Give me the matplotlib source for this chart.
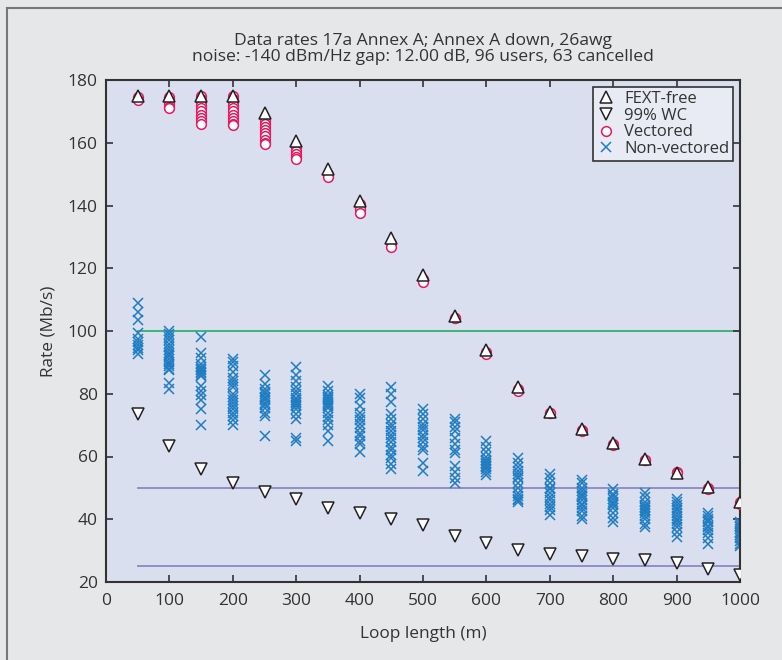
import numpy as np
import matplotlib
matplotlib.use("Agg")
import matplotlib.pyplot as plt
from matplotlib.lines import Line2D

plt.rcParams['font.family'] = ['Open Sans', 'DejaVu Sans']

# loop lengths (m)
loop_m = [50, 100, 150, 200, 250, 300, 350, 400, 450, 500,
          550, 600, 650, 700, 750, 800, 850, 900, 950, 1000]

fext_free = [175, 175, 175, 175, 169.5, 160.5, 151.5, 141.5, 129.5, 118,
             104.8, 93.8, 82.3, 74.3, 68.8, 64.3, 59.2, 54.8, 50.4, 45.6]

wc99 = [73.5, 63.3, 56, 51.5, 48.7, 46.4, 43.6, 42, 40, 38.2,
        34.6, 32.4, 30.2, 28.9, 28.3, 27.3, 27, 26, 24.1, 22.3]

vectored = [
    [174.5, 173.5],
    [174.5, 173.5, 172.5, 171.5, 171],
    [175, 174, 173, 172, 171, 170, 169, 168, 167, 166],
    [175, 174, 173, 172, 171, 170, 169, 168, 167, 166, 165.5],
    [167, 166, 165, 164, 163, 162, 161, 160, 159.5],
    [158.5, 157.5, 156.5, 155.5, 154.8],
    [150, 149],
    [140.5, 139, 137.5],
    [128, 126.8],
    [116.5, 115.6],
    [104.3, 104],
    [93.3, 92.8],
    [81.5, 81],
    [74, 73.8],
    [68.5, 68.2],
    [64, 63.7],
    [59, 58.8],
    [55, 54.6],
    [50, 49.8],
    [45.5, 45],
]

non_vectored = [
    [108.8, 106.2, 103.5, 99.5, 97.5, 96.5, 95.5, 94.5, 93.8, 92.8],
    [100, 99, 98, 97, 96, 95, 94, 93, 92.5, 92, 91, 90, 89.5, 89, 88, 87.5, 83.5, 81.5],
    [98, 93, 91.5, 89.5, 88.5, 88, 87.5, 87, 86.5, 86, 85.5, 82.5, 81, 79.5, 78, 75, 70],
    [91, 90, 89, 87, 85, 84, 83, 82, 80, 79, 78, 77, 76, 75, 74, 73, 71.5, 70],
    [86, 83, 81.5, 80.5, 80, 79, 78.5, 78, 77, 76.5, 75.5, 74, 73, 66.5],
    [88.5, 86, 84, 82, 81, 80, 78.5, 78, 77.5, 77, 76.5, 76, 75, 73.5, 72, 66, 65],
    [82.5, 81, 79.5, 79, 78.5, 78, 77.5, 77, 76.5, 76, 75.5, 74, 72.5, 71.5, 70, 68, 65],
    [80, 78.5, 76, 74, 72.5, 71.5, 70.5, 69, 67.5, 66.5, 65, 64, 61.5],
    [82, 80, 77.5, 73.5, 72, 70.5, 69.5, 68, 67, 66, 64.5, 63, 62, 60.5, 59.5, 57.5, 56],
    [75, 73.5, 72, 70.5, 69.5, 68.5, 67, 66, 64.5, 63, 62, 58, 55.5],
    [72, 71, 69.5, 68, 66, 64, 62, 61, 57, 55, 53, 51.5],
    [65, 63, 61.5, 60, 59, 58.5, 58, 57.5, 57, 56.5, 56, 55, 54],
    [59.5, 58, 56.5, 55.5, 54.5, 53.5, 53, 51.5, 50, 48.5, 47.5, 46.5, 46, 45.5],
    [54.5, 53, 51.5, 50, 49.5, 48.5, 47, 46, 45, 44, 43, 41.5],
    [52.5, 51.5, 50, 49, 48, 47.5, 47, 46, 45, 44.5, 43.5, 42.5, 41, 40],
    [49.5, 48, 47.5, 46.5, 45.5, 45, 44.5, 43.5, 42, 40.5, 39],
    [48.5, 47, 45.5, 44.5, 44, 43.5, 43, 42.5, 42, 41, 40, 38.5, 37.5],
    [46.5, 45.5, 44.5, 43.5, 43, 42, 41, 40, 39.5, 38.5, 37.5, 36, 34.5],
    [42, 41, 40, 39.5, 39, 38, 37.5, 36.5, 35.5, 34, 32],
    [39, 38.5, 38, 37.5, 37, 36, 35.5, 35, 34, 33, 32, 31.5],
]

# reference rate lines (Mb/s)
ref_rates = [100, 50, 25]
ref_colors = ['#3db37a', '#8f8fc6', '#8f8fc6']

title_lines = ["Data rates 17a Annex A; Annex A down, 26awg",
               "noise: -140 dBm/Hz gap: 12.00 dB, 96 users, 63 cancelled"]

fig = plt.figure(figsize=(7.82, 6.6), dpi=100, facecolor='#e6e7e9')
ax = fig.add_axes([106 / 782, 1 - 582 / 660, 634 / 782, 502 / 660])
ax.set_facecolor('#d9dfee')

# frame round the figure (left and top edges only show)
fig.add_artist(Line2D([7 / 782, 7 / 782], [0, 1 - 8 / 660], transform=fig.transFigure,
                      color='#777777', lw=1.5))
fig.add_artist(Line2D([7 / 782, 1.0], [1 - 8 / 660, 1 - 8 / 660], transform=fig.transFigure,
                      color='#777777', lw=1.5))

for r, c in zip(ref_rates, ref_colors):
    ax.plot([loop_m[0], loop_m[-1]], [r, r], color=c, lw=1.4, zorder=1)

nx = [x for x, vals in zip(loop_m, non_vectored) for v in vals]
ny = [v for vals in non_vectored for v in vals]
ax.plot(nx, ny, 'x', color='#1f7dc4', ms=7, mew=1.1, zorder=2, label='Non-vectored')

vx = [x for x, vals in zip(loop_m, vectored) for v in vals]
vy = [v for vals in vectored for v in vals]
ax.plot(vx, vy, 'o', mfc='white', mec='#e8185f', ms=7, mew=1.1, zorder=3, label='Vectored')

ax.plot(loop_m, fext_free, '^', mfc='white', mec='#222222', ms=9, mew=1.1, zorder=4,
        label='FEXT-free')
ax.plot(loop_m, wc99, 'v', mfc='white', mec='#222222', ms=9, mew=1.1, zorder=4,
        label='99% WC')

ax.set_xlim(0, 1000)
ax.set_ylim(20, 180)
ax.set_xticks(np.arange(0, 1001, 100))
ax.set_yticks(np.arange(20, 181, 20))
ax.tick_params(direction='in', top=True, right=True, length=5, width=1.2,
               labelsize=12.5, labelcolor='#333333', colors='#333333', pad=6)
ax.tick_params(axis='x', pad=8)
for s in ax.spines.values():
    s.set_linewidth(1.5)
    s.set_color('#333333')

ax.set_xlabel('Loop length (m)', fontsize=12.4, color='#333333', labelpad=12)
ax.set_ylabel('Rate (Mb/s)', fontsize=12.4, color='#333333', labelpad=8)
ax.set_title("\n".join(title_lines), fontsize=12.6, color='#333333', linespacing=0.95, pad=14)

handles, labels = ax.get_legend_handles_labels()
order = [2, 3, 1, 0]
leg = ax.legend([handles[i] for i in order], [labels[i] for i in order],
                loc='upper right', fontsize=12, frameon=True, fancybox=False,
                edgecolor='#333333', facecolor='#e8ebf4', framealpha=1,
                borderaxespad=0.4, handlelength=1.0, handletextpad=0.6,
                labelspacing=0.05, borderpad=0.25, labelcolor='#333333')
leg.get_frame().set_linewidth(1.2)

fig.savefig('out.png', dpi=100, facecolor=fig.get_facecolor())
